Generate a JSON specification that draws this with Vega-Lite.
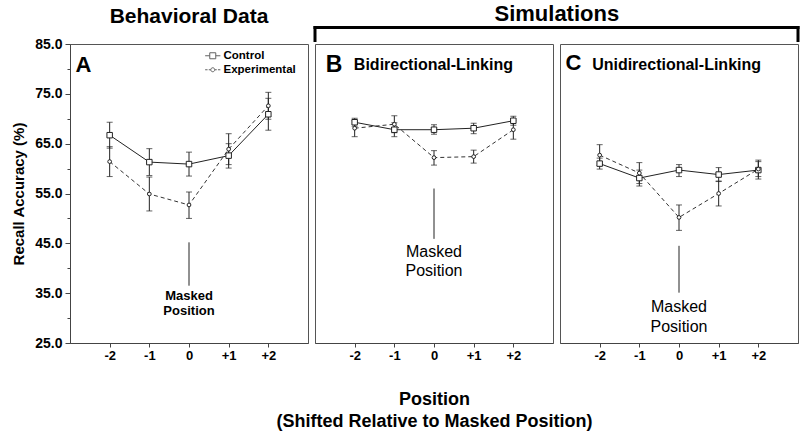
{
  "$schema": "https://vega.github.io/schema/vega-lite/v6.json",
  "background": "white",
  "padding": {"left": 11, "top": 2, "right": 2, "bottom": 5},
  "bounds": "flush",
  "spacing": 7,
  "config": {
    "view": {"stroke": "#555", "strokeWidth": 1},
    "axis": {"grid": false, "domainColor": "#444", "tickColor": "#444", "labelFont": "Liberation Sans", "labelFontWeight": "bold", "labelColor": "#000", "titleColor": "#000", "labelOverlap": false}
  },
  "datasets": {
    "d": [
      {"panel": "A", "cond": "Control", "pos": -2, "mean": 66.7, "lo": 64.1, "hi": 69.3},
      {"panel": "A", "cond": "Control", "pos": -1, "mean": 61.3, "lo": 58.6, "hi": 64.0},
      {"panel": "A", "cond": "Control", "pos": 0, "mean": 60.9, "lo": 58.5, "hi": 63.3},
      {"panel": "A", "cond": "Control", "pos": 1, "mean": 62.6, "lo": 60.1, "hi": 65.0},
      {"panel": "A", "cond": "Control", "pos": 2, "mean": 70.9, "lo": 67.7, "hi": 74.1},
      {"panel": "A", "cond": "Experimental", "pos": -2, "mean": 61.4, "lo": 58.4, "hi": 64.4},
      {"panel": "A", "cond": "Experimental", "pos": -1, "mean": 54.9, "lo": 51.5, "hi": 58.3},
      {"panel": "A", "cond": "Experimental", "pos": 0, "mean": 52.7, "lo": 50.0, "hi": 55.3},
      {"panel": "A", "cond": "Experimental", "pos": 1, "mean": 63.9, "lo": 60.8, "hi": 67.0},
      {"panel": "A", "cond": "Experimental", "pos": 2, "mean": 72.6, "lo": 69.9, "hi": 75.3},
      {"panel": "B", "cond": "Control", "pos": -2, "mean": 69.3, "lo": 68.5, "hi": 70.1},
      {"panel": "B", "cond": "Control", "pos": -1, "mean": 67.8, "lo": 66.4, "hi": 69.2},
      {"panel": "B", "cond": "Control", "pos": 0, "mean": 67.8, "lo": 66.9, "hi": 68.8},
      {"panel": "B", "cond": "Control", "pos": 1, "mean": 68.1, "lo": 67.0, "hi": 69.1},
      {"panel": "B", "cond": "Control", "pos": 2, "mean": 69.6, "lo": 68.7, "hi": 70.5},
      {"panel": "B", "cond": "Experimental", "pos": -2, "mean": 68.1, "lo": 66.4, "hi": 69.7},
      {"panel": "B", "cond": "Experimental", "pos": -1, "mean": 68.9, "lo": 67.2, "hi": 70.6},
      {"panel": "B", "cond": "Experimental", "pos": 0, "mean": 62.2, "lo": 60.7, "hi": 63.6},
      {"panel": "B", "cond": "Experimental", "pos": 1, "mean": 62.4, "lo": 61.1, "hi": 63.7},
      {"panel": "B", "cond": "Experimental", "pos": 2, "mean": 67.8, "lo": 65.9, "hi": 69.7},
      {"panel": "C", "cond": "Control", "pos": -2, "mean": 61.0, "lo": 59.9, "hi": 62.1},
      {"panel": "C", "cond": "Control", "pos": -1, "mean": 58.1, "lo": 56.5, "hi": 59.7},
      {"panel": "C", "cond": "Control", "pos": 0, "mean": 59.7, "lo": 58.4, "hi": 60.8},
      {"panel": "C", "cond": "Control", "pos": 1, "mean": 58.8, "lo": 57.4, "hi": 60.2},
      {"panel": "C", "cond": "Control", "pos": 2, "mean": 59.7, "lo": 57.9, "hi": 61.7},
      {"panel": "C", "cond": "Experimental", "pos": -2, "mean": 62.7, "lo": 60.6, "hi": 64.8},
      {"panel": "C", "cond": "Experimental", "pos": -1, "mean": 59.1, "lo": 57.0, "hi": 61.2},
      {"panel": "C", "cond": "Experimental", "pos": 0, "mean": 50.2, "lo": 47.6, "hi": 52.7},
      {"panel": "C", "cond": "Experimental", "pos": 1, "mean": 55.0, "lo": 52.5, "hi": 57.5},
      {"panel": "C", "cond": "Experimental", "pos": 2, "mean": 59.9, "lo": 58.4, "hi": 61.4}
    ]
  },
  "hconcat": [
    {
      "width": 238, "height": 299,
      "title": {"text": "Behavioral Data", "font": "Liberation Sans", "fontSize": 21, "fontWeight": "bold", "color": "#000", "offset": 10, "anchor": "middle"},
      "data": {"name": "d"},
      "transform": [{"filter": "datum.panel == 'A'"}],
      "layer": [
        {"transform": [{"filter": "datum.cond == 'Control'"}], "mark": {"type": "line", "color": "#222", "strokeWidth": 1},
         "encoding": {
           "x": {"field": "pos", "type": "quantitative", "scale": {"domain": [-3, 3], "nice": false, "zero": false}, "axis": {"values": [-2, -1, 0, 1, 2], "labelExpr": "datum.value > 0 ? '+' + datum.value : '' + datum.value", "title": null, "tickSize": 4, "labelFontSize": 13, "labelPadding": 2}},
           "y": {"field": "mean", "type": "quantitative", "scale": {"domain": [25, 85], "nice": false, "zero": false}, "axis": {"values": [25, 30, 35, 40, 45, 50, 55, 60, 65, 70, 75, 80, 85], "labelExpr": "datum.value % 10 == 5 ? format(datum.value, '.1f') : ''", "tickSize": {"condition": {"test": "datum.value % 10 == 5", "value": 5}, "value": 3}, "title": "Recall Accuracy (%)", "titleFont": "Liberation Sans", "titleFontSize": 15, "titleFontWeight": "bold", "labelFontSize": 14, "labelPadding": 3, "titlePadding": 8}}
         }},
        {"transform": [{"filter": "datum.cond == 'Experimental'"}], "mark": {"type": "line", "color": "#333", "strokeWidth": 1, "strokeDash": [4, 3]},
         "encoding": {
           "x": {"field": "pos", "type": "quantitative", "scale": {"domain": [-3, 3], "nice": false, "zero": false}, "axis": {"values": [-2, -1, 0, 1, 2], "labelExpr": "datum.value > 0 ? '+' + datum.value : '' + datum.value", "title": null, "tickSize": 4, "labelFontSize": 13, "labelPadding": 2}},
           "y": {"field": "mean", "type": "quantitative", "scale": {"domain": [25, 85], "nice": false, "zero": false}, "axis": {"values": [25, 30, 35, 40, 45, 50, 55, 60, 65, 70, 75, 80, 85], "labelExpr": "datum.value % 10 == 5 ? format(datum.value, '.1f') : ''", "tickSize": {"condition": {"test": "datum.value % 10 == 5", "value": 5}, "value": 3}, "title": "Recall Accuracy (%)", "titleFont": "Liberation Sans", "titleFontSize": 15, "titleFontWeight": "bold", "labelFontSize": 14, "labelPadding": 3, "titlePadding": 8}}
         }},
        {"mark": {"type": "rule", "color": "#222", "strokeWidth": 1},
         "encoding": {
           "x": {"field": "pos", "type": "quantitative", "scale": {"domain": [-3, 3], "nice": false, "zero": false}, "axis": {"values": [-2, -1, 0, 1, 2], "labelExpr": "datum.value > 0 ? '+' + datum.value : '' + datum.value", "title": null, "tickSize": 4, "labelFontSize": 13, "labelPadding": 2}},
           "y": {"field": "lo", "type": "quantitative", "scale": {"domain": [25, 85], "nice": false, "zero": false}, "axis": {"values": [25, 30, 35, 40, 45, 50, 55, 60, 65, 70, 75, 80, 85], "labelExpr": "datum.value % 10 == 5 ? format(datum.value, '.1f') : ''", "tickSize": {"condition": {"test": "datum.value % 10 == 5", "value": 5}, "value": 3}, "title": "Recall Accuracy (%)", "titleFont": "Liberation Sans", "titleFontSize": 15, "titleFontWeight": "bold", "labelFontSize": 14, "labelPadding": 3, "titlePadding": 8}},
           "y2": {"field": "hi"}
         }},
        {"mark": {"type": "tick", "orient": "horizontal", "size": 6, "thickness": 1, "color": "#222"},
         "encoding": {
           "x": {"field": "pos", "type": "quantitative", "scale": {"domain": [-3, 3], "nice": false, "zero": false}, "axis": {"values": [-2, -1, 0, 1, 2], "labelExpr": "datum.value > 0 ? '+' + datum.value : '' + datum.value", "title": null, "tickSize": 4, "labelFontSize": 13, "labelPadding": 2}},
           "y": {"field": "lo", "type": "quantitative", "scale": {"domain": [25, 85], "nice": false, "zero": false}, "axis": {"values": [25, 30, 35, 40, 45, 50, 55, 60, 65, 70, 75, 80, 85], "labelExpr": "datum.value % 10 == 5 ? format(datum.value, '.1f') : ''", "tickSize": {"condition": {"test": "datum.value % 10 == 5", "value": 5}, "value": 3}, "title": "Recall Accuracy (%)", "titleFont": "Liberation Sans", "titleFontSize": 15, "titleFontWeight": "bold", "labelFontSize": 14, "labelPadding": 3, "titlePadding": 8}}
         }},
        {"mark": {"type": "tick", "orient": "horizontal", "size": 6, "thickness": 1, "color": "#222"},
         "encoding": {
           "x": {"field": "pos", "type": "quantitative", "scale": {"domain": [-3, 3], "nice": false, "zero": false}, "axis": {"values": [-2, -1, 0, 1, 2], "labelExpr": "datum.value > 0 ? '+' + datum.value : '' + datum.value", "title": null, "tickSize": 4, "labelFontSize": 13, "labelPadding": 2}},
           "y": {"field": "hi", "type": "quantitative", "scale": {"domain": [25, 85], "nice": false, "zero": false}, "axis": {"values": [25, 30, 35, 40, 45, 50, 55, 60, 65, 70, 75, 80, 85], "labelExpr": "datum.value % 10 == 5 ? format(datum.value, '.1f') : ''", "tickSize": {"condition": {"test": "datum.value % 10 == 5", "value": 5}, "value": 3}, "title": "Recall Accuracy (%)", "titleFont": "Liberation Sans", "titleFontSize": 15, "titleFontWeight": "bold", "labelFontSize": 14, "labelPadding": 3, "titlePadding": 8}}
         }},
        {"mark": {"type": "point", "filled": true, "fill": "white", "stroke": "#222", "strokeWidth": 1, "opacity": 1},
         "encoding": {
           "x": {"field": "pos", "type": "quantitative", "scale": {"domain": [-3, 3], "nice": false, "zero": false}, "axis": {"values": [-2, -1, 0, 1, 2], "labelExpr": "datum.value > 0 ? '+' + datum.value : '' + datum.value", "title": null, "tickSize": 4, "labelFontSize": 13, "labelPadding": 2}},
           "y": {"field": "mean", "type": "quantitative", "scale": {"domain": [25, 85], "nice": false, "zero": false}, "axis": {"values": [25, 30, 35, 40, 45, 50, 55, 60, 65, 70, 75, 80, 85], "labelExpr": "datum.value % 10 == 5 ? format(datum.value, '.1f') : ''", "tickSize": {"condition": {"test": "datum.value % 10 == 5", "value": 5}, "value": 3}, "title": "Recall Accuracy (%)", "titleFont": "Liberation Sans", "titleFontSize": 15, "titleFontWeight": "bold", "labelFontSize": 14, "labelPadding": 3, "titlePadding": 8}},
           "shape": {"condition": {"test": "datum.cond == 'Control'", "value": "square"}, "value": "circle"},
           "size": {"condition": {"test": "datum.cond == 'Control'", "value": 30}, "value": 14}
         }},
        {"transform": [{"filter": "false"}], "mark": {"type": "point", "filled": false, "color": "#222"},
         "encoding": {
           "x": {"field": "pos", "type": "quantitative", "scale": {"domain": [-3, 3], "nice": false, "zero": false}, "axis": {"values": [-2, -1, 0, 1, 2], "labelExpr": "datum.value > 0 ? '+' + datum.value : '' + datum.value", "title": null, "tickSize": 4, "labelFontSize": 13, "labelPadding": 2}},
           "y": {"field": "mean", "type": "quantitative", "scale": {"domain": [25, 85], "nice": false, "zero": false}, "axis": {"values": [25, 30, 35, 40, 45, 50, 55, 60, 65, 70, 75, 80, 85], "labelExpr": "datum.value % 10 == 5 ? format(datum.value, '.1f') : ''", "tickSize": {"condition": {"test": "datum.value % 10 == 5", "value": 5}, "value": 3}, "title": "Recall Accuracy (%)", "titleFont": "Liberation Sans", "titleFontSize": 15, "titleFontWeight": "bold", "labelFontSize": 14, "labelPadding": 3, "titlePadding": 8}},
           "shape": {"field": "cond", "type": "nominal",
             "scale": {"domain": ["Control", "Experimental"], "range": ["M-1.9,0H-0.75M0.75,0H1.9M-0.75,-0.75H0.75V0.75H-0.75Z", "M-1.9,0H-1.3M-1.0,0H-0.5M0.5,0H1.0M1.3,0H1.9M0.5,0A0.5,0.5,0,1,1,-0.5,0A0.5,0.5,0,1,1,0.5,0"]},
             "legend": {"title": null, "orient": "none", "legendX": 137, "legendY": 6, "padding": 0, "symbolSize": 64, "symbolStrokeWidth": 1, "symbolStrokeColor": "#222", "labelFont": "Liberation Sans", "labelFontSize": 11.5, "labelFontWeight": "bold", "labelColor": "#000", "labelOffset": 5, "rowPadding": 1, "labelLimit": 120}}
         }},
        {"data": {"values": [{}]}, "mark": {"type": "rule", "color": "#222", "strokeWidth": 1},
         "encoding": {
           "x": {"datum": 0, "type": "quantitative", "scale": {"domain": [-3, 3], "nice": false, "zero": false}, "axis": {"values": [-2, -1, 0, 1, 2], "labelExpr": "datum.value > 0 ? '+' + datum.value : '' + datum.value", "title": null, "tickSize": 4, "labelFontSize": 13, "labelPadding": 2}},
           "y": {"datum": 45.2, "type": "quantitative", "scale": {"domain": [25, 85], "nice": false, "zero": false}, "axis": {"values": [25, 30, 35, 40, 45, 50, 55, 60, 65, 70, 75, 80, 85], "labelExpr": "datum.value % 10 == 5 ? format(datum.value, '.1f') : ''", "tickSize": {"condition": {"test": "datum.value % 10 == 5", "value": 5}, "value": 3}, "title": "Recall Accuracy (%)", "titleFont": "Liberation Sans", "titleFontSize": 15, "titleFontWeight": "bold", "labelFontSize": 14, "labelPadding": 3, "titlePadding": 8}},
           "y2": {"datum": 36.5}
         }},
        {"data": {"values": [{}]}, "mark": {"type": "text", "text": ["Masked", "Position"], "font": "Liberation Sans", "fontSize": 13, "fontWeight": "bold", "lineHeight": 15, "baseline": "top", "align": "center", "color": "#000"},
         "encoding": {
           "x": {"datum": 0, "type": "quantitative", "scale": {"domain": [-3, 3], "nice": false, "zero": false}, "axis": {"values": [-2, -1, 0, 1, 2], "labelExpr": "datum.value > 0 ? '+' + datum.value : '' + datum.value", "title": null, "tickSize": 4, "labelFontSize": 13, "labelPadding": 2}},
           "y": {"datum": 35.7, "type": "quantitative", "scale": {"domain": [25, 85], "nice": false, "zero": false}, "axis": {"values": [25, 30, 35, 40, 45, 50, 55, 60, 65, 70, 75, 80, 85], "labelExpr": "datum.value % 10 == 5 ? format(datum.value, '.1f') : ''", "tickSize": {"condition": {"test": "datum.value % 10 == 5", "value": 5}, "value": 3}, "title": "Recall Accuracy (%)", "titleFont": "Liberation Sans", "titleFontSize": 15, "titleFontWeight": "bold", "labelFontSize": 14, "labelPadding": 3, "titlePadding": 8}}
         }},
        {"data": {"values": [{}]}, "mark": {"type": "text", "text": "A", "font": "Liberation Sans", "fontSize": 22, "fontWeight": "bold", "baseline": "alphabetic", "align": "left", "color": "#000"},
         "encoding": {
           "x": {"datum": -2.86, "type": "quantitative", "scale": {"domain": [-3, 3], "nice": false, "zero": false}, "axis": {"values": [-2, -1, 0, 1, 2], "labelExpr": "datum.value > 0 ? '+' + datum.value : '' + datum.value", "title": null, "tickSize": 4, "labelFontSize": 13, "labelPadding": 2}},
           "y": {"datum": 79.3, "type": "quantitative", "scale": {"domain": [25, 85], "nice": false, "zero": false}, "axis": {"values": [25, 30, 35, 40, 45, 50, 55, 60, 65, 70, 75, 80, 85], "labelExpr": "datum.value % 10 == 5 ? format(datum.value, '.1f') : ''", "tickSize": {"condition": {"test": "datum.value % 10 == 5", "value": 5}, "value": 3}, "title": "Recall Accuracy (%)", "titleFont": "Liberation Sans", "titleFontSize": 15, "titleFontWeight": "bold", "labelFontSize": 14, "labelPadding": 3, "titlePadding": 8}}
         }}
      ]
    },
    {
      "width": 238, "height": 299,
      "data": {"name": "d"},
      "transform": [{"filter": "datum.panel == 'B'"}],
      "layer": [
        {"transform": [{"filter": "datum.cond == 'Control'"}], "mark": {"type": "line", "color": "#222", "strokeWidth": 1},
         "encoding": {
           "x": {"field": "pos", "type": "quantitative", "scale": {"domain": [-3, 3], "nice": false, "zero": false}, "axis": {"values": [-2, -1, 0, 1, 2], "labelExpr": "datum.value > 0 ? '+' + datum.value : '' + datum.value", "tickSize": 4, "labelFontSize": 13, "labelPadding": 2, "title": ["Position", "(Shifted Relative to Masked Position)"], "titleFont": "Liberation Sans", "titleFontSize": 18, "titleFontWeight": "bold", "titleLineHeight": 22, "titlePadding": 28}},
           "y": {"field": "mean", "type": "quantitative", "scale": {"domain": [25, 85], "nice": false, "zero": false}, "axis": null}
         }},
        {"transform": [{"filter": "datum.cond == 'Experimental'"}], "mark": {"type": "line", "color": "#333", "strokeWidth": 1, "strokeDash": [4, 3]},
         "encoding": {
           "x": {"field": "pos", "type": "quantitative", "scale": {"domain": [-3, 3], "nice": false, "zero": false}, "axis": {"values": [-2, -1, 0, 1, 2], "labelExpr": "datum.value > 0 ? '+' + datum.value : '' + datum.value", "tickSize": 4, "labelFontSize": 13, "labelPadding": 2, "title": ["Position", "(Shifted Relative to Masked Position)"], "titleFont": "Liberation Sans", "titleFontSize": 18, "titleFontWeight": "bold", "titleLineHeight": 22, "titlePadding": 28}},
           "y": {"field": "mean", "type": "quantitative", "scale": {"domain": [25, 85], "nice": false, "zero": false}, "axis": null}
         }},
        {"mark": {"type": "rule", "color": "#222", "strokeWidth": 1},
         "encoding": {
           "x": {"field": "pos", "type": "quantitative", "scale": {"domain": [-3, 3], "nice": false, "zero": false}, "axis": {"values": [-2, -1, 0, 1, 2], "labelExpr": "datum.value > 0 ? '+' + datum.value : '' + datum.value", "tickSize": 4, "labelFontSize": 13, "labelPadding": 2, "title": ["Position", "(Shifted Relative to Masked Position)"], "titleFont": "Liberation Sans", "titleFontSize": 18, "titleFontWeight": "bold", "titleLineHeight": 22, "titlePadding": 28}},
           "y": {"field": "lo", "type": "quantitative", "scale": {"domain": [25, 85], "nice": false, "zero": false}, "axis": null},
           "y2": {"field": "hi"}
         }},
        {"mark": {"type": "tick", "orient": "horizontal", "size": 6, "thickness": 1, "color": "#222"},
         "encoding": {
           "x": {"field": "pos", "type": "quantitative", "scale": {"domain": [-3, 3], "nice": false, "zero": false}, "axis": {"values": [-2, -1, 0, 1, 2], "labelExpr": "datum.value > 0 ? '+' + datum.value : '' + datum.value", "tickSize": 4, "labelFontSize": 13, "labelPadding": 2, "title": ["Position", "(Shifted Relative to Masked Position)"], "titleFont": "Liberation Sans", "titleFontSize": 18, "titleFontWeight": "bold", "titleLineHeight": 22, "titlePadding": 28}},
           "y": {"field": "lo", "type": "quantitative", "scale": {"domain": [25, 85], "nice": false, "zero": false}, "axis": null}
         }},
        {"mark": {"type": "tick", "orient": "horizontal", "size": 6, "thickness": 1, "color": "#222"},
         "encoding": {
           "x": {"field": "pos", "type": "quantitative", "scale": {"domain": [-3, 3], "nice": false, "zero": false}, "axis": {"values": [-2, -1, 0, 1, 2], "labelExpr": "datum.value > 0 ? '+' + datum.value : '' + datum.value", "tickSize": 4, "labelFontSize": 13, "labelPadding": 2, "title": ["Position", "(Shifted Relative to Masked Position)"], "titleFont": "Liberation Sans", "titleFontSize": 18, "titleFontWeight": "bold", "titleLineHeight": 22, "titlePadding": 28}},
           "y": {"field": "hi", "type": "quantitative", "scale": {"domain": [25, 85], "nice": false, "zero": false}, "axis": null}
         }},
        {"mark": {"type": "point", "filled": true, "fill": "white", "stroke": "#222", "strokeWidth": 1, "opacity": 1},
         "encoding": {
           "x": {"field": "pos", "type": "quantitative", "scale": {"domain": [-3, 3], "nice": false, "zero": false}, "axis": {"values": [-2, -1, 0, 1, 2], "labelExpr": "datum.value > 0 ? '+' + datum.value : '' + datum.value", "tickSize": 4, "labelFontSize": 13, "labelPadding": 2, "title": ["Position", "(Shifted Relative to Masked Position)"], "titleFont": "Liberation Sans", "titleFontSize": 18, "titleFontWeight": "bold", "titleLineHeight": 22, "titlePadding": 28}},
           "y": {"field": "mean", "type": "quantitative", "scale": {"domain": [25, 85], "nice": false, "zero": false}, "axis": null},
           "shape": {"condition": {"test": "datum.cond == 'Control'", "value": "square"}, "value": "circle"},
           "size": {"condition": {"test": "datum.cond == 'Control'", "value": 30}, "value": 14}
         }},
        {"data": {"values": [{}]}, "mark": {"type": "rule", "color": "#222", "strokeWidth": 1},
         "encoding": {
           "x": {"datum": 0, "type": "quantitative", "scale": {"domain": [-3, 3], "nice": false, "zero": false}, "axis": {"values": [-2, -1, 0, 1, 2], "labelExpr": "datum.value > 0 ? '+' + datum.value : '' + datum.value", "tickSize": 4, "labelFontSize": 13, "labelPadding": 2, "title": ["Position", "(Shifted Relative to Masked Position)"], "titleFont": "Liberation Sans", "titleFontSize": 18, "titleFontWeight": "bold", "titleLineHeight": 22, "titlePadding": 28}},
           "y": {"datum": 56.0, "type": "quantitative", "scale": {"domain": [25, 85], "nice": false, "zero": false}, "axis": null},
           "y2": {"datum": 45.9}
         }},
        {"data": {"values": [{}]}, "mark": {"type": "text", "text": ["Masked", "Position"], "font": "Liberation Sans", "fontSize": 16, "fontWeight": "normal", "lineHeight": 19, "baseline": "top", "align": "center", "color": "#000"},
         "encoding": {
           "x": {"datum": 0, "type": "quantitative", "scale": {"domain": [-3, 3], "nice": false, "zero": false}, "axis": {"values": [-2, -1, 0, 1, 2], "labelExpr": "datum.value > 0 ? '+' + datum.value : '' + datum.value", "tickSize": 4, "labelFontSize": 13, "labelPadding": 2, "title": ["Position", "(Shifted Relative to Masked Position)"], "titleFont": "Liberation Sans", "titleFontSize": 18, "titleFontWeight": "bold", "titleLineHeight": 22, "titlePadding": 28}},
           "y": {"datum": 44.9, "type": "quantitative", "scale": {"domain": [25, 85], "nice": false, "zero": false}, "axis": null}
         }},
        {"data": {"values": [{}]}, "mark": {"type": "text", "text": "B", "font": "Liberation Sans", "fontSize": 23, "fontWeight": "bold", "baseline": "alphabetic", "align": "left", "color": "#000"},
         "encoding": {
           "x": {"datum": -2.73, "type": "quantitative", "scale": {"domain": [-3, 3], "nice": false, "zero": false}, "axis": {"values": [-2, -1, 0, 1, 2], "labelExpr": "datum.value > 0 ? '+' + datum.value : '' + datum.value", "tickSize": 4, "labelFontSize": 13, "labelPadding": 2, "title": ["Position", "(Shifted Relative to Masked Position)"], "titleFont": "Liberation Sans", "titleFontSize": 18, "titleFontWeight": "bold", "titleLineHeight": 22, "titlePadding": 28}},
           "y": {"datum": 79.3, "type": "quantitative", "scale": {"domain": [25, 85], "nice": false, "zero": false}, "axis": null}
         }},
        {"data": {"values": [{}]}, "mark": {"type": "text", "text": "Bidirectional-Linking", "font": "Liberation Sans", "fontSize": 16, "fontWeight": "bold", "baseline": "alphabetic", "align": "left", "color": "#000"},
         "encoding": {
           "x": {"datum": -2.02, "type": "quantitative", "scale": {"domain": [-3, 3], "nice": false, "zero": false}, "axis": {"values": [-2, -1, 0, 1, 2], "labelExpr": "datum.value > 0 ? '+' + datum.value : '' + datum.value", "tickSize": 4, "labelFontSize": 13, "labelPadding": 2, "title": ["Position", "(Shifted Relative to Masked Position)"], "titleFont": "Liberation Sans", "titleFontSize": 18, "titleFontWeight": "bold", "titleLineHeight": 22, "titlePadding": 28}},
           "y": {"datum": 79.8, "type": "quantitative", "scale": {"domain": [25, 85], "nice": false, "zero": false}, "axis": null}
         }},
        {"data": {"values": [{}]}, "mark": {"type": "rule", "color": "#000", "strokeWidth": 3, "strokeCap": "square", "clip": false},
         "encoding": {
           "x": {"datum": -3, "type": "quantitative", "scale": {"domain": [-3, 3], "nice": false, "zero": false}, "axis": {"values": [-2, -1, 0, 1, 2], "labelExpr": "datum.value > 0 ? '+' + datum.value : '' + datum.value", "tickSize": 4, "labelFontSize": 13, "labelPadding": 2, "title": ["Position", "(Shifted Relative to Masked Position)"], "titleFont": "Liberation Sans", "titleFontSize": 18, "titleFontWeight": "bold", "titleLineHeight": 22, "titlePadding": 28}},
           "x2": {"datum": 3},
           "y": {"datum": 88.3, "type": "quantitative", "scale": {"domain": [25, 85], "nice": false, "zero": false}, "axis": null}
         }},
        {"data": {"values": [{}]}, "mark": {"type": "rule", "color": "#000", "strokeWidth": 3, "strokeCap": "square", "clip": false},
         "encoding": {
           "x": {"datum": -3, "type": "quantitative", "scale": {"domain": [-3, 3], "nice": false, "zero": false}, "axis": {"values": [-2, -1, 0, 1, 2], "labelExpr": "datum.value > 0 ? '+' + datum.value : '' + datum.value", "tickSize": 4, "labelFontSize": 13, "labelPadding": 2, "title": ["Position", "(Shifted Relative to Masked Position)"], "titleFont": "Liberation Sans", "titleFontSize": 18, "titleFontWeight": "bold", "titleLineHeight": 22, "titlePadding": 28}},
           "y": {"datum": 88.3, "type": "quantitative", "scale": {"domain": [25, 85], "nice": false, "zero": false}, "axis": null},
           "y2": {"datum": 85.7}
         }}
      ]
    },
    {
      "width": 238, "height": 299,
      "data": {"name": "d"},
      "transform": [{"filter": "datum.panel == 'C'"}],
      "layer": [
        {"transform": [{"filter": "datum.cond == 'Control'"}], "mark": {"type": "line", "color": "#222", "strokeWidth": 1},
         "encoding": {
           "x": {"field": "pos", "type": "quantitative", "scale": {"domain": [-3, 3], "nice": false, "zero": false}, "axis": {"values": [-2, -1, 0, 1, 2], "labelExpr": "datum.value > 0 ? '+' + datum.value : '' + datum.value", "title": null, "tickSize": 4, "labelFontSize": 13, "labelPadding": 2}},
           "y": {"field": "mean", "type": "quantitative", "scale": {"domain": [25, 85], "nice": false, "zero": false}, "axis": null}
         }},
        {"transform": [{"filter": "datum.cond == 'Experimental'"}], "mark": {"type": "line", "color": "#333", "strokeWidth": 1, "strokeDash": [4, 3]},
         "encoding": {
           "x": {"field": "pos", "type": "quantitative", "scale": {"domain": [-3, 3], "nice": false, "zero": false}, "axis": {"values": [-2, -1, 0, 1, 2], "labelExpr": "datum.value > 0 ? '+' + datum.value : '' + datum.value", "title": null, "tickSize": 4, "labelFontSize": 13, "labelPadding": 2}},
           "y": {"field": "mean", "type": "quantitative", "scale": {"domain": [25, 85], "nice": false, "zero": false}, "axis": null}
         }},
        {"mark": {"type": "rule", "color": "#222", "strokeWidth": 1},
         "encoding": {
           "x": {"field": "pos", "type": "quantitative", "scale": {"domain": [-3, 3], "nice": false, "zero": false}, "axis": {"values": [-2, -1, 0, 1, 2], "labelExpr": "datum.value > 0 ? '+' + datum.value : '' + datum.value", "title": null, "tickSize": 4, "labelFontSize": 13, "labelPadding": 2}},
           "y": {"field": "lo", "type": "quantitative", "scale": {"domain": [25, 85], "nice": false, "zero": false}, "axis": null},
           "y2": {"field": "hi"}
         }},
        {"mark": {"type": "tick", "orient": "horizontal", "size": 6, "thickness": 1, "color": "#222"},
         "encoding": {
           "x": {"field": "pos", "type": "quantitative", "scale": {"domain": [-3, 3], "nice": false, "zero": false}, "axis": {"values": [-2, -1, 0, 1, 2], "labelExpr": "datum.value > 0 ? '+' + datum.value : '' + datum.value", "title": null, "tickSize": 4, "labelFontSize": 13, "labelPadding": 2}},
           "y": {"field": "lo", "type": "quantitative", "scale": {"domain": [25, 85], "nice": false, "zero": false}, "axis": null}
         }},
        {"mark": {"type": "tick", "orient": "horizontal", "size": 6, "thickness": 1, "color": "#222"},
         "encoding": {
           "x": {"field": "pos", "type": "quantitative", "scale": {"domain": [-3, 3], "nice": false, "zero": false}, "axis": {"values": [-2, -1, 0, 1, 2], "labelExpr": "datum.value > 0 ? '+' + datum.value : '' + datum.value", "title": null, "tickSize": 4, "labelFontSize": 13, "labelPadding": 2}},
           "y": {"field": "hi", "type": "quantitative", "scale": {"domain": [25, 85], "nice": false, "zero": false}, "axis": null}
         }},
        {"mark": {"type": "point", "filled": true, "fill": "white", "stroke": "#222", "strokeWidth": 1, "opacity": 1},
         "encoding": {
           "x": {"field": "pos", "type": "quantitative", "scale": {"domain": [-3, 3], "nice": false, "zero": false}, "axis": {"values": [-2, -1, 0, 1, 2], "labelExpr": "datum.value > 0 ? '+' + datum.value : '' + datum.value", "title": null, "tickSize": 4, "labelFontSize": 13, "labelPadding": 2}},
           "y": {"field": "mean", "type": "quantitative", "scale": {"domain": [25, 85], "nice": false, "zero": false}, "axis": null},
           "shape": {"condition": {"test": "datum.cond == 'Control'", "value": "square"}, "value": "circle"},
           "size": {"condition": {"test": "datum.cond == 'Control'", "value": 30}, "value": 14}
         }},
        {"data": {"values": [{}]}, "mark": {"type": "rule", "color": "#222", "strokeWidth": 1},
         "encoding": {
           "x": {"datum": 0, "type": "quantitative", "scale": {"domain": [-3, 3], "nice": false, "zero": false}, "axis": {"values": [-2, -1, 0, 1, 2], "labelExpr": "datum.value > 0 ? '+' + datum.value : '' + datum.value", "title": null, "tickSize": 4, "labelFontSize": 13, "labelPadding": 2}},
           "y": {"datum": 44.5, "type": "quantitative", "scale": {"domain": [25, 85], "nice": false, "zero": false}, "axis": null},
           "y2": {"datum": 35.1}
         }},
        {"data": {"values": [{}]}, "mark": {"type": "text", "text": ["Masked", "Position"], "font": "Liberation Sans", "fontSize": 16, "fontWeight": "normal", "lineHeight": 20, "baseline": "top", "align": "center", "color": "#000"},
         "encoding": {
           "x": {"datum": 0, "type": "quantitative", "scale": {"domain": [-3, 3], "nice": false, "zero": false}, "axis": {"values": [-2, -1, 0, 1, 2], "labelExpr": "datum.value > 0 ? '+' + datum.value : '' + datum.value", "title": null, "tickSize": 4, "labelFontSize": 13, "labelPadding": 2}},
           "y": {"datum": 33.9, "type": "quantitative", "scale": {"domain": [25, 85], "nice": false, "zero": false}, "axis": null}
         }},
        {"data": {"values": [{}]}, "mark": {"type": "text", "text": "C", "font": "Liberation Sans", "fontSize": 22, "fontWeight": "bold", "baseline": "alphabetic", "align": "left", "color": "#000"},
         "encoding": {
           "x": {"datum": -2.86, "type": "quantitative", "scale": {"domain": [-3, 3], "nice": false, "zero": false}, "axis": {"values": [-2, -1, 0, 1, 2], "labelExpr": "datum.value > 0 ? '+' + datum.value : '' + datum.value", "title": null, "tickSize": 4, "labelFontSize": 13, "labelPadding": 2}},
           "y": {"datum": 79.8, "type": "quantitative", "scale": {"domain": [25, 85], "nice": false, "zero": false}, "axis": null}
         }},
        {"data": {"values": [{}]}, "mark": {"type": "text", "text": "Unidirectional-Linking", "font": "Liberation Sans", "fontSize": 16, "fontWeight": "bold", "baseline": "alphabetic", "align": "left", "color": "#000"},
         "encoding": {
           "x": {"datum": -2.19, "type": "quantitative", "scale": {"domain": [-3, 3], "nice": false, "zero": false}, "axis": {"values": [-2, -1, 0, 1, 2], "labelExpr": "datum.value > 0 ? '+' + datum.value : '' + datum.value", "title": null, "tickSize": 4, "labelFontSize": 13, "labelPadding": 2}},
           "y": {"datum": 79.8, "type": "quantitative", "scale": {"domain": [25, 85], "nice": false, "zero": false}, "axis": null}
         }},
        {"data": {"values": [{}]}, "mark": {"type": "rule", "color": "#000", "strokeWidth": 3, "strokeCap": "square", "clip": false},
         "encoding": {
           "x": {"datum": -3.2, "type": "quantitative", "scale": {"domain": [-3, 3], "nice": false, "zero": false}, "axis": {"values": [-2, -1, 0, 1, 2], "labelExpr": "datum.value > 0 ? '+' + datum.value : '' + datum.value", "title": null, "tickSize": 4, "labelFontSize": 13, "labelPadding": 2}},
           "x2": {"datum": 3},
           "y": {"datum": 88.3, "type": "quantitative", "scale": {"domain": [25, 85], "nice": false, "zero": false}, "axis": null}
         }},
        {"data": {"values": [{}]}, "mark": {"type": "rule", "color": "#000", "strokeWidth": 3, "strokeCap": "square", "clip": false},
         "encoding": {
           "x": {"datum": 3, "type": "quantitative", "scale": {"domain": [-3, 3], "nice": false, "zero": false}, "axis": {"values": [-2, -1, 0, 1, 2], "labelExpr": "datum.value > 0 ? '+' + datum.value : '' + datum.value", "title": null, "tickSize": 4, "labelFontSize": 13, "labelPadding": 2}},
           "y": {"datum": 88.3, "type": "quantitative", "scale": {"domain": [25, 85], "nice": false, "zero": false}, "axis": null},
           "y2": {"datum": 85.7}
         }},
        {"data": {"values": [{}]}, "mark": {"type": "text", "text": "Simulations", "font": "Liberation Sans", "fontSize": 22, "fontWeight": "bold", "baseline": "middle", "align": "center", "color": "#000", "clip": false},
         "encoding": {
           "x": {"datum": -3.08, "type": "quantitative", "scale": {"domain": [-3, 3], "nice": false, "zero": false}, "axis": {"values": [-2, -1, 0, 1, 2], "labelExpr": "datum.value > 0 ? '+' + datum.value : '' + datum.value", "title": null, "tickSize": 4, "labelFontSize": 13, "labelPadding": 2}},
           "y": {"datum": 91.0, "type": "quantitative", "scale": {"domain": [25, 85], "nice": false, "zero": false}, "axis": null}
         }}
      ]
    }
  ]
}
